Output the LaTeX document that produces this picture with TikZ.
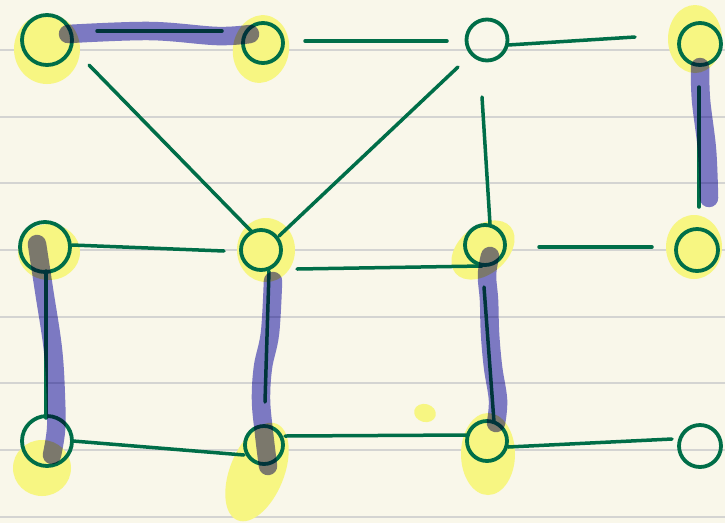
\documentclass[tikz,border=0pt]{standalone}
\usetikzlibrary{calc}
\definecolor{bg}{RGB}{249,247,234}
\definecolor{rulec}{RGB}{212,212,210}
\definecolor{gr}{RGB}{0,110,72}
\definecolor{hy}{RGB}{247,246,130}
\definecolor{hp}{RGB}{127,125,212}
\tikzset{
  nd/.style={circle, draw=gr, line width=3.8pt, inner sep=0pt},
  ed/.style={draw=gr, line width=3.5pt, line cap=round},
  rulel/.style={draw=rulec, line width=1.8pt},
  hly/.style={fill=hy},
  hlp/.style={draw=hp, line width=18.5pt, line cap=round, line join=round}
}
\begin{document}
\begin{tikzpicture}[x=1pt,y=-1pt]
\useasboundingbox (0,0) rectangle (725,523);
\fill[bg] (0,0) rectangle (725,523);
\foreach \yy in {50,116.7,183.3,250,316.7,383.3,450,516.7}
  \draw[rulel] (0,\yy) -- (725,\yy);

% yellow highlights
\fill[hly] (47,49) ellipse [x radius=33, y radius=35];
\fill[hly, rotate around={-10:(261,49)}] (261,49) ellipse [x radius=28, y radius=34];
\fill[hly] (695,39) ellipse [x radius=27, y radius=34];
\fill[hly] (49,252) ellipse [x radius=31, y radius=28];
\fill[hly] (266,250) ellipse [x radius=29, y radius=32];
\fill[hly, rotate around={40:(483,250)}] (483,250) ellipse [x radius=36, y radius=24];
\fill[hly] (694,247) ellipse [x radius=28, y radius=32];
\fill[hly] (42,468) ellipse [x radius=29, y radius=28];
\fill[hly, rotate around={68:(257,472)}] (257,472) ellipse [x radius=52, y radius=27];
\fill[hly] (488,454) ellipse [x radius=27, y radius=41];
\fill[hly, rotate around={-15:(425,413)}] (425,413) ellipse [x radius=11, y radius=9];

% nodes
\node[nd, minimum size=50pt] (A) at (47,40) {};
\node[nd, minimum size=40pt] (B) at (263,43) {};
\node[nd, minimum size=41pt] (C) at (487,40) {};
\node[nd, minimum size=42pt] (D) at (700,44) {};
\node[nd, minimum size=50pt] (E) at (45,247) {};
\node[nd, minimum size=40pt] (F) at (261,250) {};
\node[nd, minimum size=40pt] (G) at (485,245) {};
\node[nd, minimum size=42pt] (H) at (697,250) {};
\node[nd, minimum size=50pt] (I) at (47,441) {};
\node[nd, minimum size=38pt] (J) at (264,445) {};
\node[nd, minimum size=40pt] (K) at (487,441) {};
\node[nd, minimum size=42pt] (L) at (700,446) {};

% edges
\draw[ed] ($(A)+(50,-9)$) -- ($(B)+(-41,-12)$);
\draw[ed] ($(B)+(42,-2)$) -- ($(C)+(-40,1)$);
\draw[ed] ($(C)+(21,5)$) -- ($(D)+(-65,-7)$);
\draw[ed] ($(A)+(42,25)$) -- ($(F)+(-9,-18)$);
\draw[ed] ($(C)+(-29,27)$) -- ($(F)+(18,-14)$);
\draw[ed] ($(C)+(-5,57)$) -- ($(G)+(5,-21)$);
\draw[ed] ($(D)+(-1,43)$) -- ($(H)+(2,-43)$);
\draw[ed] ($(E)+(27,-2)$) -- ($(F)+(-37,1)$);
\draw[ed] ($(F)+(36,19)$) -- ($(G)+(-3,21)$);
\draw[ed] ($(G)+(54,2)$) -- ($(H)+(-45,-3)$);
\draw[ed] ($(E)+(1,24)$) -- ($(I)+(-1,-23)$);
\draw[ed] ($(F)+(8,21)$) -- ($(J)+(1,-43)$);
\draw[ed] ($(G)+(-1,42)$) -- ($(K)+(7,-19)$);
\draw[ed] ($(I)+(26,0)$) -- ($(J)+(-20,10)$);
\draw[ed] ($(J)+(21,-9)$) -- ($(K)+(-20,-6)$);
\draw[ed] ($(K)+(21,6)$) -- ($(L)+(-28,-7)$);

% purple matching highlights
\begin{scope}[blend mode=multiply]
\draw[hlp] plot[smooth, tension=0.6] coordinates {(68,34) (150,31) (217,36) (250,34)};
\draw[hlp] plot[smooth, tension=0.6] coordinates {(700,67) (701,100) (707,150) (709,198)};
\draw[hlp] plot[smooth, tension=0.6] coordinates {(37,244) (44,290) (53,350) (56,400) (56,430) (52,455)};
\draw[hlp] plot[smooth, tension=0.6] coordinates {(273,281) (270,333) (263,367) (261,400) (264,433) (268,466)};
\draw[hlp] plot[smooth, tension=0.6] coordinates {(490,256) (487,275) (489,300) (490,333) (493,367) (498,400) (496,423)};
\end{scope}
\end{tikzpicture}
\end{document}
